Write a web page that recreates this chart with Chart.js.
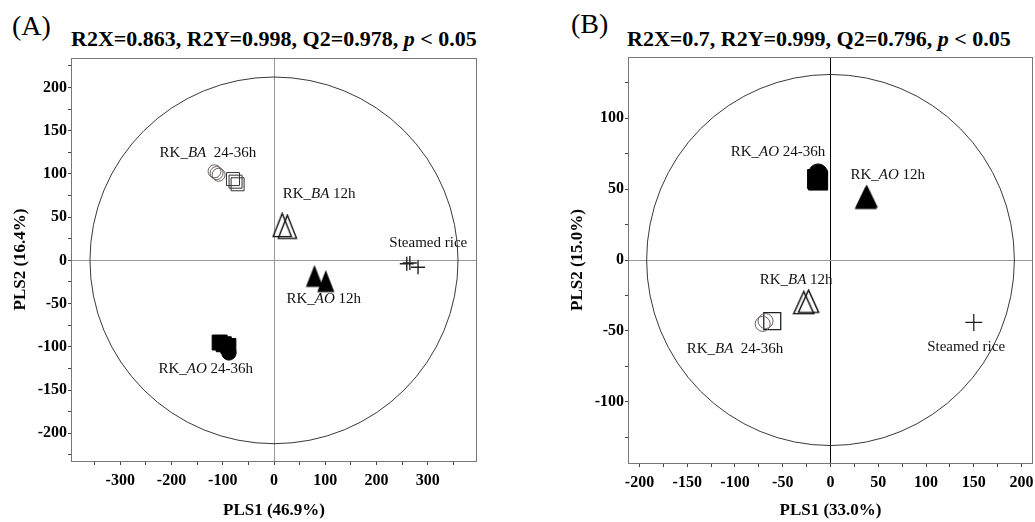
<!DOCTYPE html>
<html>
<head>
<meta charset="utf-8">
<script src="https://cdn.jsdelivr.net/npm/chart.js@4.4.0/dist/chart.umd.min.js"></script>
<style>
body{margin:0;background:#fff;width:1035px;height:522px;position:relative;overflow:hidden;font-family:'Liberation Serif',serif;color:#000}
canvas{position:absolute;top:0}
#cA{left:0}
#cB{left:517px}
.panel{position:absolute;font-size:28px;line-height:28px;white-space:nowrap}
.ttl{position:absolute;font-weight:bold;font-size:22px;line-height:22px;white-space:nowrap}
</style>
</head>
<body>
<div class="panel" style="left:12px;top:12px">(A)</div>
<div class="ttl" style="left:71px;top:28px">R2X=0.863, R2Y=0.998, Q2=0.978, <i>p</i> &lt; 0.05</div>
<div class="panel" style="left:571px;top:10px">(B)</div>
<div class="ttl" style="left:627px;top:28px">R2X=0.7, R2Y=0.999, Q2=0.796, <i>p</i> &lt; 0.05</div>
<canvas id="cA" width="517" height="522"></canvas>
<canvas id="cB" width="518" height="522"></canvas>
<script>
// panel A scores [PLS1, PLS2]
var aBaLateCircles = [[-116, 103], [-112, 101], [-108, 99]];
var aBaLateSquares = [[-80, 94], [-75, 91], [-71, 88]];
var aBaEarly = [[16, 41], [26, 39]];
var aAoEarly = [[79, -18], [101, -24]];
var aAoLateSquares = [[-106, -95], [-98, -97], [-89, -99]];
var aAoLateCircles = [[-88, -107]];
var aRice = [[259, -4], [265, -3], [281, -8]];
var aEllipse = [359, 212];
var aLabelText = [["RK_", "BA", "  24-36h"], ["RK_", "BA", " 12h"], ["Steamed rice", "", ""], ["RK_", "AO", " 12h"], ["RK_", "AO", " 24-36h"]];
var aLabelAt = [[-129, 124], [88, 77], [301, 20], [97, -45], [-133, -126]];

// panel B scores [PLS1, PLS2]
var bAoLateCircles = [[-13, 61]];
var bAoLateSquares = [[-13, 56], [-14, 57]];
var bAoEarly = [[38, 45], [37, 44]];
var bBaEarly = [[-28, -30], [-23, -29]];
var bBaLateCircles = [[-71, -45], [-68, -43]];
var bBaLateSquares = [[-61, -43]];
var bRice = [[150, -44]];
var bEllipse = [192.5, 130.7];
var bLabelText = [["RK_", "AO", " 24-36h"], ["RK_", "AO", " 12h"], ["RK_", "BA", " 12h"], ["RK_", "BA", "  24-36h"], ["Steamed rice", "", ""]];
var bLabelAt = [[-55, 76], [60, 60], [-36, -14], [-100, -63], [142, -61]];

var serif = "'Liberation Serif', 'Times New Roman', serif";

function pts(arr) {
    return arr.map(function (p) { return {x: p[0], y: p[1]}; });
}

// tall triangle marker drawn once into a small canvas
function tri(w, h, filled) {
    var lw = 1.4;
    var c = document.createElement('canvas');
    c.width = Math.ceil(w + 2 * lw);
    c.height = Math.ceil(h + 2 * lw);
    var g = c.getContext('2d');
    g.beginPath();
    g.moveTo(c.width / 2, lw);
    g.lineTo(c.width - lw, c.height - lw);
    g.lineTo(lw, c.height - lw);
    g.closePath();
    if (filled) {
        g.fillStyle = '#000';
        g.fill();
    } else {
        g.lineWidth = lw;
        g.strokeStyle = '#111';
        g.stroke();
    }
    return c;
}

function set(arr, style, r, fill, stroke, bw) {
    return {
        data: pts(arr),
        pointStyle: style,
        pointRadius: r,
        pointBackgroundColor: fill,
        pointBorderColor: stroke,
        pointBorderWidth: bw,
        showLine: false
    };
}

var decor = {
    id: 'decor',
    beforeDatasetsDraw: function (chart, args, opts) {
        var ctx = chart.ctx, a = chart.chartArea;
        var xs = chart.scales.x, ys = chart.scales.y;
        ctx.save();
        ctx.strokeStyle = '#777';
        ctx.lineWidth = 1;
        ctx.strokeRect(Math.round(a.left) + 0.5, Math.round(a.top) + 0.5, Math.round(a.right - a.left) - 1, Math.round(a.bottom - a.top));
        var cx = xs.getPixelForValue(0), cy = ys.getPixelForValue(0);
        ctx.beginPath();
        ctx.ellipse(cx, cy, xs.getPixelForValue(opts.ellipse[0]) - cx, cy - ys.getPixelForValue(opts.ellipse[1]), 0, 0, Math.PI * 2);
        ctx.strokeStyle = '#222';
        ctx.lineWidth = 0.9;
        ctx.stroke();
        ctx.restore();
    },
    afterDatasetsDraw: function (chart, args, opts) {
        var ctx = chart.ctx;
        var xs = chart.scales.x, ys = chart.scales.y;
        var up = '15px ' + serif, it = 'italic 15px ' + serif;
        ctx.save();
        ctx.fillStyle = '#111';
        ctx.textBaseline = 'middle';
        ctx.textAlign = 'left';
        opts.text.forEach(function (t, i) {
            ctx.font = up;
            var w0 = ctx.measureText(t[0]).width, w2 = ctx.measureText(t[2]).width;
            ctx.font = it;
            var w1 = ctx.measureText(t[1]).width;
            var x = xs.getPixelForValue(opts.at[i][0]) - (w0 + w1 + w2) / 2;
            var y = ys.getPixelForValue(opts.at[i][1]);
            ctx.font = up;
            ctx.fillText(t[0], x, y);
            ctx.font = it;
            ctx.fillText(t[1], x + w0, y);
            ctx.font = up;
            ctx.fillText(t[2], x + w0 + w1, y);
        });
        ctx.restore();
    }
};

function axis(lim, minor, major, size, title, tpad, zeroColor) {
    return {
        type: 'linear',
        min: -lim[0],
        max: lim[1],
        ticks: {
            stepSize: minor,
            includeBounds: false,
            autoSkip: false,
            maxRotation: 0,
            padding: tpad,
            color: '#000',
            font: {family: serif, size: 16, weight: 'bold'},
            callback: function (v) { return v % major === 0 ? String(v) : ''; }
        },
        afterBuildTicks: function (s) {
            s.ticks = s.ticks.filter(function (t) { return t.value % minor === 0; });
        },
        grid: {
            drawOnChartArea: true,
            drawTicks: true,
            tickLength: 4,
            tickColor: '#444',
            lineWidth: 1,
            color: function (c) { return c.tick && c.tick.value === 0 ? zeroColor : 'rgba(0,0,0,0)'; }
        },
        border: {display: false},
        title: {display: true, text: title.text, color: '#000', padding: title.pad, font: {family: serif, size: 17, weight: 'bold'}},
        afterFit: function (s) {
            size(s);
            // keep the plot box fixed even when an end label sticks out
            s.paddingLeft = 0;
            s.paddingRight = 0;
            s.paddingTop = 0;
            s.paddingBottom = 0;
        }
    };
}

function build(id, pad, yWidth, xHeight, xCfg, yCfg, datasets, ellipse, text, at) {
    var x = axis(xCfg.lim, xCfg.minor, xCfg.major, function (s) { s.height = xHeight; }, xCfg.title, 6, xCfg.zero);
    var y = axis(yCfg.lim, yCfg.minor, yCfg.major, function (s) { s.width = yWidth; }, yCfg.title, 1, yCfg.zero);
    y.grid.tickLength = 3;
    return new Chart(document.getElementById(id), {
        type: 'scatter',
        data: {datasets: datasets},
        options: {
            responsive: false,
            animation: false,
            layout: {padding: pad, autoPadding: false},
            scales: {x: x, y: y},
            plugins: {legend: {display: false}, tooltip: {enabled: false}, decor: {ellipse: ellipse, text: text, at: at}}
        },
        plugins: [decor]
    });
}

build('cA', {left: 0, top: 58, right: 40, bottom: 0}, 71, 61,
    {lim: [396, 396], minor: 50, major: 100, zero: '#999', title: {text: 'PLS1 (46.9%)', pad: {top: 0, bottom: 1}}},
    {lim: [232, 234], minor: 25, major: 50, zero: '#999', title: {text: 'PLS2 (16.4%)', pad: {top: 10, bottom: 0}}},
    [
        set(aBaLateCircles, 'circle', 6.5, 'rgba(0,0,0,0)', '#6b5f5f', 1),
        set(aBaLateSquares, 'rect', 9.2, 'rgba(0,0,0,0)', '#333', 1),
        set(aBaEarly, tri(18, 23, false), 1, '#000', '#000', 1),
        set(aAoEarly, tri(17, 22, true), 1, '#000', '#000', 1),
        set(aAoLateSquares, 'rect', 10.6, '#000', '#000', 1),
        set(aAoLateCircles, 'circle', 7.2, '#000', '#000', 1),
        set(aRice, 'cross', 7, '#000', '#222', 1.4)
    ],
    aEllipse, aLabelText, aLabelAt);

build('cB', {left: 40, top: 57, right: 2, bottom: 0}, 71, 59,
    {lim: [212, 212], minor: 25, major: 50, zero: '#000', title: {text: 'PLS1 (33.0%)', pad: {top: 0, bottom: 1}}},
    {lim: [143, 143], minor: 25, major: 50, zero: '#999', title: {text: 'PLS2 (15.0%)', pad: {top: 10, bottom: 0}}},
    [
        set(bBaLateCircles, 'circle', 7.5, 'rgba(0,0,0,0)', '#6b5f5f', 1),
        set(bBaLateSquares, 'rect', 12, 'rgba(0,0,0,0)', '#222', 1.3),
        set(bBaEarly, tri(20, 22, false), 1, '#000', '#000', 1),
        set(bAoEarly, tri(22, 23, true), 1, '#000', '#000', 1),
        set(bAoLateSquares, 'rect', 13.5, '#000', '#000', 1),
        set(bAoLateCircles, 'circle', 9.5, '#000', '#000', 1),
        set(bRice, 'cross', 8.5, '#000', '#222', 1.3)
    ],
    bEllipse, bLabelText, bLabelAt);
</script>
</body>
</html>
